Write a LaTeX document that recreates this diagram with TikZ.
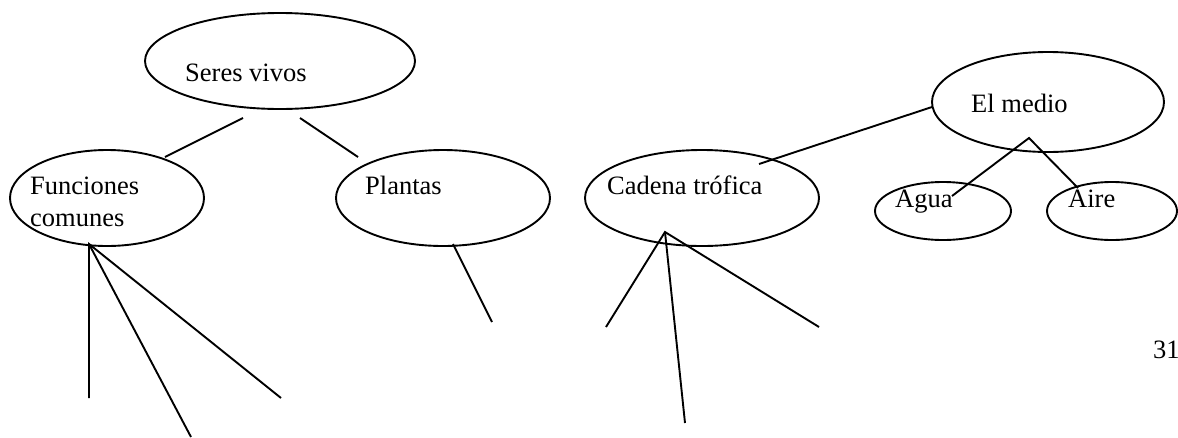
\documentclass[tikz,border=0pt]{standalone}
\usepackage{fontspec}
\setmainfont{Liberation Serif}
\usetikzlibrary{shapes.geometric}
\begin{document}
\begin{tikzpicture}[x=1pt,y=-1pt,
  bubble/.style={draw, ellipse, line width=1.9pt, inner sep=0pt, outer sep=0pt},
  lbl/.style={anchor=base west, inner sep=0pt, font=\fontsize{26.5}{30}\selectfont},
  link/.style={line width=1.9pt}]
\useasboundingbox (0,0) rectangle (1178,437);

% concept bubbles
\node[bubble, minimum width=270pt, minimum height=96pt] (sv) at (280,61) {};
\node[bubble, minimum width=194pt, minimum height=96pt] (fc) at (107,198) {};
\node[bubble, minimum width=214pt, minimum height=96pt] (pl) at (443,198) {};
\node[bubble, minimum width=234pt, minimum height=96pt] (ct) at (702,198) {};
\node[bubble, minimum width=232pt, minimum height=100pt] (em) at (1048,102) {};
\node[bubble, minimum width=136pt, minimum height=58pt] (ag) at (943,211) {};
\node[bubble, minimum width=130pt, minimum height=58pt] (ai) at (1112,211) {};

% labels
\node[lbl] (tsv) at (185,81) {Seres vivos};
\node[lbl] (tfc1) at (30,194) {Funciones};
\node[lbl] (tfc2) at (30,226) {comunes};
\node[lbl] (tpl) at (365,194) {Plantas};
\node[lbl] (tct) at (607,194) {Cadena trófica};
\node[lbl] (tem) at (971,112) {El medio};
\node[lbl] (tag) at (895,207) {Agua};
\node[lbl] (tai) at (1068,207) {Aire};
\node[lbl] (pg) at (1153,358) {31};

% connector end points
\coordinate (svA) at (243,118);
\coordinate (fcA) at (165,157);
\coordinate (svB) at (300,118);
\coordinate (plA) at (358,157);
\coordinate (fcH) at (89,244);
\coordinate (f1) at (89,398);
\coordinate (f2) at (191,437);
\coordinate (f3) at (281,398);
\coordinate (plH) at (453,244);
\coordinate (p1) at (492,322);
\coordinate (emA) at (932,107);
\coordinate (ctA) at (759,164);
\coordinate (emH) at (1029,138);
\coordinate (agA) at (952,196);
\coordinate (aiA) at (1078,188);
\coordinate (ctH) at (665,232);
\coordinate (c1) at (606,327);
\coordinate (c2) at (685,423);
\coordinate (c3) at (819,327);

% connectors
\draw[link] (svA) -- (fcA);
\draw[link] (svB) -- (plA);
\draw[link] (f1) -- (fcH) -- (f3);
\draw[link] (fcH) -- (f2);
\draw[link] (plH) -- (p1);
\draw[link] (emA) -- (ctA);
\draw[link] (agA) -- (emH) -- (aiA);
\draw[link] (c1) -- (ctH) -- (c3);
\draw[link] (ctH) -- (c2);
\end{tikzpicture}
\end{document}
